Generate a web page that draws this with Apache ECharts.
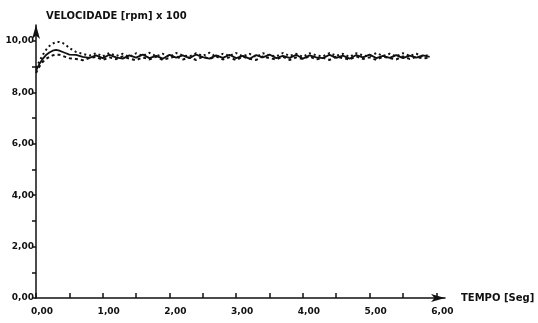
<!DOCTYPE html>
<html>
<head>
<meta charset="utf-8">
<script src="https://cdn.jsdelivr.net/npm/echarts@6/dist/echarts.min.js"></script>
<style>
  html, body { margin: 0; padding: 0; background: #fff; }
  #chart { width: 538px; height: 323px; }
</style>
</head>
<body>
<div id="chart"></div>
<script>
// tempo (s)
const tempo = [0, 0.05, 0.1, 0.15, 0.2, 0.25, 0.3, 0.35, 0.4, 0.45, 0.5,
  0.6, 0.7, 0.8, 0.9, 1.0, 1.1, 1.2, 1.3, 1.4, 1.5, 1.6, 1.7, 1.8, 1.9,
  2.0, 2.1, 2.2, 2.3, 2.4, 2.5, 2.6, 2.7, 2.8, 2.9, 3.0, 3.1, 3.2, 3.3,
  3.4, 3.5, 3.6, 3.7, 3.8, 3.9, 4.0, 4.1, 4.2, 4.3, 4.4, 4.5, 4.6, 4.7,
  4.8, 4.9, 5.0, 5.1, 5.2, 5.3, 5.4, 5.5, 5.6, 5.7, 5.8, 5.9];

// velocidade (rpm x 100)
const velSolida = [8.85, 9.1, 9.3, 9.45, 9.55, 9.62, 9.65, 9.62, 9.57, 9.52, 9.47,
  9.46, 9.38, 9.34, 9.44, 9.33, 9.46, 9.36, 9.31, 9.44, 9.35,
  9.47, 9.33, 9.42, 9.31, 9.46, 9.35, 9.44, 9.33, 9.47, 9.37,
  9.31, 9.44, 9.34, 9.46, 9.33, 9.42, 9.31, 9.45, 9.36, 9.47,
  9.33, 9.42, 9.34, 9.46, 9.31, 9.44, 9.36, 9.33, 9.46, 9.34,
  9.43, 9.31, 9.45, 9.36, 9.47, 9.33, 9.42, 9.34, 9.45, 9.33,
  9.43, 9.35, 9.44, 9.38];

const velPontilhadaSup = [8.95, 9.2, 9.45, 9.65, 9.8, 9.9, 9.95, 9.96, 9.92, 9.84, 9.72,
  9.57, 9.50, 9.43, 9.52, 9.40, 9.53, 9.42, 9.50, 9.38, 9.52,
  9.42, 9.54, 9.40, 9.50, 9.38, 9.53, 9.44, 9.40, 9.52, 9.42,
  9.54, 9.38, 9.50, 9.42, 9.53, 9.40, 9.50, 9.38, 9.52, 9.44,
  9.40, 9.53, 9.42, 9.50, 9.38, 9.52, 9.44, 9.40, 9.53, 9.42,
  9.50, 9.38, 9.52, 9.44, 9.40, 9.53, 9.42, 9.50, 9.40, 9.52,
  9.42, 9.50, 9.40, 9.46];

const velPontilhadaInf = [8.75, 9.0, 9.18, 9.3, 9.38, 9.44, 9.47, 9.46, 9.42, 9.37, 9.33,
  9.30, 9.25, 9.33, 9.38, 9.26, 9.36, 9.29, 9.40, 9.31, 9.25,
  9.36, 9.28, 9.39, 9.26, 9.34, 9.40, 9.28, 9.36, 9.26, 9.39,
  9.30, 9.40, 9.28, 9.36, 9.25, 9.39, 9.31, 9.26, 9.40, 9.33,
  9.28, 9.39, 9.26, 9.36, 9.30, 9.40, 9.28, 9.34, 9.26, 9.39,
  9.33, 9.28, 9.40, 9.30, 9.36, 9.26, 9.39, 9.33, 9.28, 9.40,
  9.30, 9.38, 9.32, 9.35];

// ticks and labels
const xTicks = [0, 0.5, 1, 1.5, 2, 2.5, 3, 3.5, 4, 4.5, 5, 5.5, 6];
const xLabels = [0, 1, 2, 3, 4, 5, 6];
const yTicks = [0, 1, 2, 3, 4, 5, 6, 7, 8, 9, 10];
const yLabels = [0, 2, 4, 6, 8, 10];

const ink = '#111';
const fmt = v => v.toFixed(2).replace('.', ',');
const pares = vals => tempo.map((t, i) => [t, vals[i]]);

const chart = echarts.init(document.getElementById('chart'));
chart.setOption({
  backgroundColor: '#fff',
  animation: false,
  grid: { left: 36, right: 93, top: 25, bottom: 25 },
  xAxis: {
    type: 'value',
    min: 0,
    max: 6.13,
    name: 'TEMPO [Seg]',
    nameLocation: 'end',
    nameGap: 16,
    nameTextStyle: { color: ink, fontSize: 10, fontWeight: 'bold', fontFamily: 'DejaVu Sans', verticalAlign: 'middle' },
    axisLine: { lineStyle: { color: ink, width: 1.5 }, symbol: ['none', 'arrow'], symbolSize: [6, 14] },
    axisTick: { inside: true, length: 5, lineStyle: { color: ink, width: 1.5 }, customValues: xTicks },
    axisLabel: {
      customValues: xLabels,
      formatter: fmt,
      color: ink, fontSize: 9, fontWeight: 'bold', fontFamily: 'DejaVu Sans',
      margin: 9,
      padding: [0, 0, 0, 12]
    },
    splitLine: { show: false }
  },
  yAxis: {
    type: 'value',
    min: 0,
    max: 10.62,
    name: 'VELOCIDADE [rpm] x 100',
    nameLocation: 'end',
    nameGap: 4,
    nameTextStyle: { color: ink, fontSize: 10, fontWeight: 'bold', fontFamily: 'DejaVu Sans', align: 'left', padding: [0, 0, 0, 10] },
    axisLine: { lineStyle: { color: ink, width: 1.5 }, symbol: ['none', 'arrow'], symbolSize: [6, 14] },
    axisTick: { inside: false, length: 4, lineStyle: { color: ink, width: 1.5 }, customValues: yTicks },
    axisLabel: {
      customValues: yLabels,
      formatter: fmt,
      color: ink, fontSize: 9, fontWeight: 'bold', fontFamily: 'DejaVu Sans',
      margin: 2
    },
    splitLine: { show: false }
  },
  series: [
    {
      type: 'line', data: pares(velSolida), showSymbol: false,
      lineStyle: { color: ink, width: 1.8, type: 'solid' }
    },
    {
      type: 'line', data: pares(velPontilhadaSup), showSymbol: false,
      lineStyle: { color: ink, width: 2, type: [2, 3] }
    },
    {
      type: 'line', data: pares(velPontilhadaInf), showSymbol: false,
      lineStyle: { color: ink, width: 2, type: [3, 3] }
    }
  ]
});
</script>
</body>
</html>
